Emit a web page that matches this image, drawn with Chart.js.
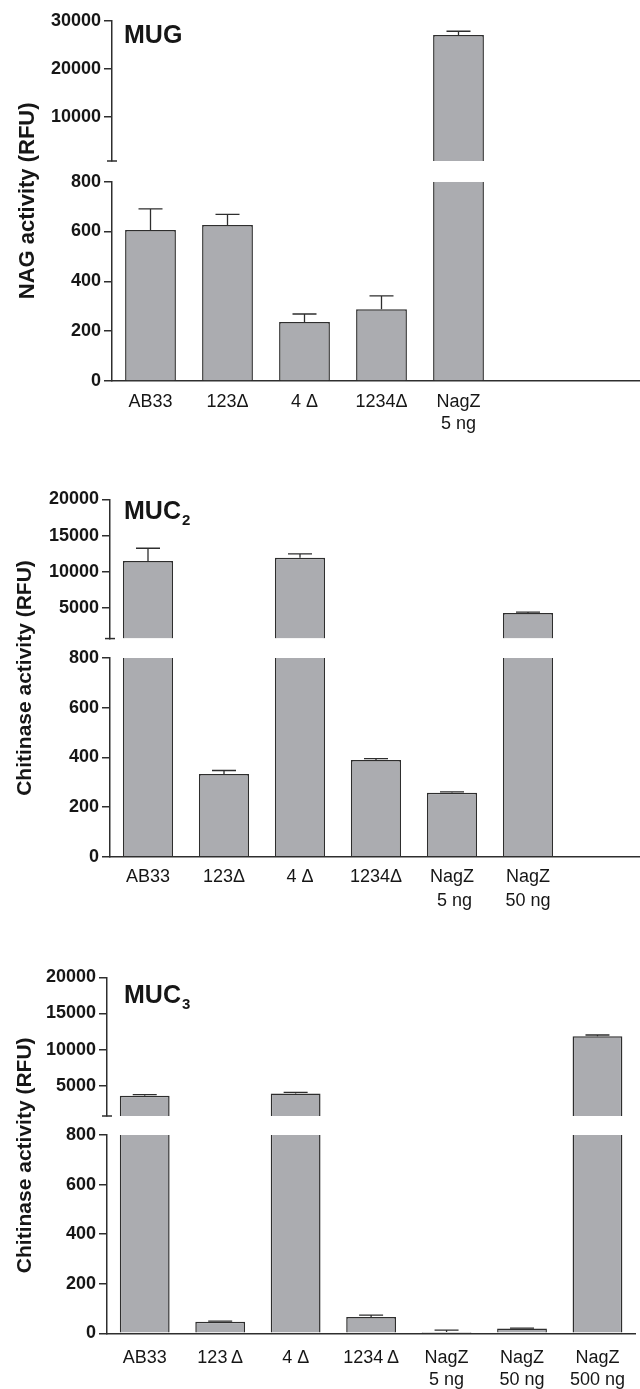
<!DOCTYPE html>
<html>
<head>
<meta charset="utf-8">
<title>NAG / chitinase activity</title>
<script src="https://cdn.jsdelivr.net/npm/chart.js@4.4.1/dist/chart.umd.min.js"></script>
<style>
  html, body { margin: 0; padding: 0; background: #fff; width: 640px; height: 1389px; overflow: hidden; }
  canvas { position: absolute; left: 0; }
</style>
</head>
<body>
<canvas id="chartMug" width="651" height="450" style="top:0px"></canvas>
<canvas id="chartMuc2" width="642" height="460" style="top:470px"></canvas>
<canvas id="chartMuc3" width="639" height="450" style="top:950px"></canvas>
<script>
// Data (RFU, mean and SD)
const mugLabels = ["AB33", "123Δ", "4 Δ", "1234Δ", ["NagZ", "5 ng"], "", ""];
const mugValues = [606, 626, 237, 288, 27000];
const mugSd = [85, 43, 32, 54, 800];
const mugUpperTicks = [10000, 20000, 30000];
const mugUpperMax = 30000;

const muc2Labels = ["AB33", "123Δ", "4 Δ", "1234Δ", ["NagZ", " 5 ng"], ["NagZ", "50 ng"], ""];
const muc2Values = [11500, 333, 11930, 389, 257, 4310];
const muc2Sd = [1750, 14, 550, 6, 4, 140];

const muc3Labels = ["AB33", "123\u2009Δ", "4 Δ", "1234\u2009Δ", ["NagZ", "5 ng"], ["NagZ", "50 ng"], ["NagZ", "500 ng"]];
const muc3Values = [3620, 47, 3900, 66, 5, 19, 11830];
const muc3Sd = [130, 2, 180, 7, 8, 2, 180];

const mucUpperTicks = [5000, 10000, 15000, 20000];
const mucUpperMax = 20000;

// Broken axis: lower segment 0-800, upper segment 800-max
const BREAK_AT = 800;
const LOWER_STEP = 200;

const FONT = 'Arial, "Liberation Sans", Helvetica, sans-serif';
const TEXT_COLOR = "#161616";
const LINE_COLOR = "#2e2e2e";
const BAR_FILL = "#abacb0";
const BW = 1.5;

Chart.defaults.font.family = FONT;

// Panel title, y title and the end cap of the upper axis segment
const panelText = {
  id: "panelText",
  afterDraw(chart, args, o) {
    const { ctx, scales } = chart;
    const up = scales.yUp;
    const low = scales.yLow;
    ctx.save();
    ctx.fillStyle = TEXT_COLOR;
    ctx.textAlign = "left";
    ctx.textBaseline = "alphabetic";
    ctx.font = "bold 25px " + FONT;
    ctx.fillText(o.title, o.titleX, o.titleY);
    if (o.sub) {
      const w = ctx.measureText(o.title).width;
      ctx.font = "bold 15px " + FONT;
      ctx.fillText(o.sub, o.titleX + w + 1, o.titleY + 6);
    }

    ctx.strokeStyle = LINE_COLOR;
    ctx.lineWidth = 1.5;
    ctx.beginPath();
    ctx.moveTo(up.right - 5, up.bottom);
    ctx.lineTo(up.right + 5, up.bottom);
    ctx.stroke();

    const cy = (up.top + low.bottom) / 2;
    ctx.translate(o.yTitleX, cy);
    ctx.rotate(-Math.PI / 2);
    ctx.font = "bold " + o.yTitleSize + "px " + FONT;
    ctx.textAlign = "center";
    ctx.textBaseline = "middle";
    ctx.fillText(o.yTitle, 0, 0);
    ctx.restore();
  },
};

// One-sided error bars (mean + SD)
const errorBars = {
  id: "errorBars",
  afterDatasetsDraw(chart, args, o) {
    const { ctx } = chart;
    const meta = chart.getDatasetMeta(0);
    ctx.save();
    ctx.strokeStyle = LINE_COLOR;
    ctx.lineWidth = 1.3;
    o.values.forEach((v, i) => {
      const scale = v > BREAK_AT ? chart.scales.yUp : chart.scales.yLow;
      const x = meta.data[i].x;
      const y0 = scale.getPixelForValue(v);
      const y1 = scale.getPixelForValue(v + o.sd[i]);
      ctx.beginPath();
      ctx.moveTo(x, y0);
      ctx.lineTo(x, y1);
      ctx.moveTo(x - 12, y1);
      ctx.lineTo(x + 12, y1);
      ctx.stroke();
    });
    ctx.restore();
  },
};

function crearPanel(id, p) {
  const ctx = document.getElementById(id).getContext("2d");
  const lowData = p.values.map((v) => [0, Math.min(v, BREAK_AT)]);
  const upData = p.values.map((v) => (v > BREAK_AT ? [BREAK_AT, v] : null));

  const tickFont = { size: 18, weight: "bold" };
  const yGrid = {
    display: true,
    drawOnChartArea: false,
    drawTicks: true,
    tickLength: 8,
    color: LINE_COLOR,
    lineWidth: 1.5,
  };
  const yBorder = { display: true, color: LINE_COLOR, width: 1.5 };

  return new Chart(ctx, {
    type: "bar",
    data: {
      labels: p.labels,
      datasets: [
        {
          data: lowData,
          yAxisID: "yLow",
          grouped: false,
          backgroundColor: BAR_FILL,
          borderColor: LINE_COLOR,
          borderSkipped: false,
          // no bottom edge (the axis is there); no top edge where the bar is broken
          borderWidth: (c) => ({
            left: BW,
            right: BW,
            bottom: 0,
            top: p.values[c.dataIndex] > BREAK_AT ? 0 : BW,
          }),
          barPercentage: 0.66,
          categoryPercentage: 1,
        },
        {
          data: upData,
          yAxisID: "yUp",
          grouped: false,
          backgroundColor: BAR_FILL,
          borderColor: LINE_COLOR,
          borderSkipped: "start",
          borderWidth: BW,
          barPercentage: 0.66,
          categoryPercentage: 1,
        },
      ],
    },
    options: {
      responsive: false,
      animation: false,
      layout: { padding: { top: p.padTop, bottom: p.padBottom, left: 0, right: 0 } },
      plugins: {
        legend: { display: false },
        tooltip: { enabled: false },
        panelText: {
          title: p.title,
          sub: p.sub,
          titleX: 124,
          titleY: p.titleY,
          yTitle: p.yTitle,
          yTitleX: p.yTitleX,
          yTitleSize: p.yTitleSize,
        },
        errorBars: { values: p.values, sd: p.sd },
      },
      scales: {
        x: {
          grid: { display: false, drawTicks: false },
          border: { display: true, color: LINE_COLOR, width: 1.5 },
          ticks: {
            color: TEXT_COLOR,
            font: { size: 18, lineHeight: p.labelLine },
            padding: p.labelPad,
            maxRotation: 0,
            autoSkip: false,
          },
          afterFit: (s) => {
            s.height = 60;
          },
        },
        yLow: {
          type: "linear",
          position: "left",
          stack: "eje",
          stackWeight: p.wLow,
          min: 0,
          max: BREAK_AT,
          ticks: { stepSize: LOWER_STEP, color: TEXT_COLOR, font: tickFont, padding: 3 },
          grid: yGrid,
          border: yBorder,
          afterFit: (s) => {
            s.width = p.axisX;
          },
        },
        yGap: {
          type: "linear",
          position: "left",
          stack: "eje",
          stackWeight: p.wGap,
          display: false,
        },
        yUp: {
          type: "linear",
          position: "left",
          stack: "eje",
          stackWeight: p.wUp,
          min: BREAK_AT,
          max: p.upMax,
          afterBuildTicks: (s) => {
            s.ticks = p.upperTicks.map((v) => ({ value: v }));
          },
          ticks: {
            color: TEXT_COLOR,
            font: tickFont,
            padding: 3,
            callback: (v) => String(v),
          },
          grid: yGrid,
          border: yBorder,
          afterFit: (s) => {
            s.width = p.axisX;
          },
        },
      },
    },
    plugins: [panelText, errorBars],
  });
}

crearPanel("chartMug", {
  labels: mugLabels,
  values: mugValues,
  sd: mugSd,
  upperTicks: mugUpperTicks,
  upMax: mugUpperMax,
  title: "MUG",
  sub: "",
  titleY: 42.7,
  yTitle: "NAG activity (RFU)",
  yTitleX: 28,
  yTitleSize: 22,
  axisX: 112,
  padTop: 20.7,
  padBottom: 9,
  labelPad: 10,
  labelLine: 1.22,
  wUp: 140.3,
  wGap: 20.7,
  wLow: 199.3,
});

crearPanel("chartMuc2", {
  labels: muc2Labels,
  values: muc2Values,
  sd: muc2Sd,
  upperTicks: mucUpperTicks,
  upMax: mucUpperMax,
  title: "MUC",
  sub: "2",
  titleY: 49.3,
  yTitle: "Chitinase activity (RFU)",
  yTitleX: 25,
  yTitleSize: 21,
  axisX: 110,
  padTop: 29.3,
  padBottom: 13.3,
  labelPad: 9,
  labelLine: 1.3,
  wUp: 139,
  wGap: 19.3,
  wLow: 198.4,
});

crearPanel("chartMuc3", {
  labels: muc3Labels,
  values: muc3Values,
  sd: muc3Sd,
  upperTicks: mucUpperTicks,
  upMax: mucUpperMax,
  title: "MUC",
  sub: "3",
  titleY: 53.3,
  yTitle: "Chitinase activity (RFU)",
  yTitleX: 25,
  yTitleSize: 21,
  axisX: 107,
  padTop: 27.3,
  padBottom: 6.7,
  labelPad: 14,
  labelLine: 1.2,
  wUp: 138.7,
  wGap: 19,
  wLow: 198.3,
});
</script>
</body>
</html>
